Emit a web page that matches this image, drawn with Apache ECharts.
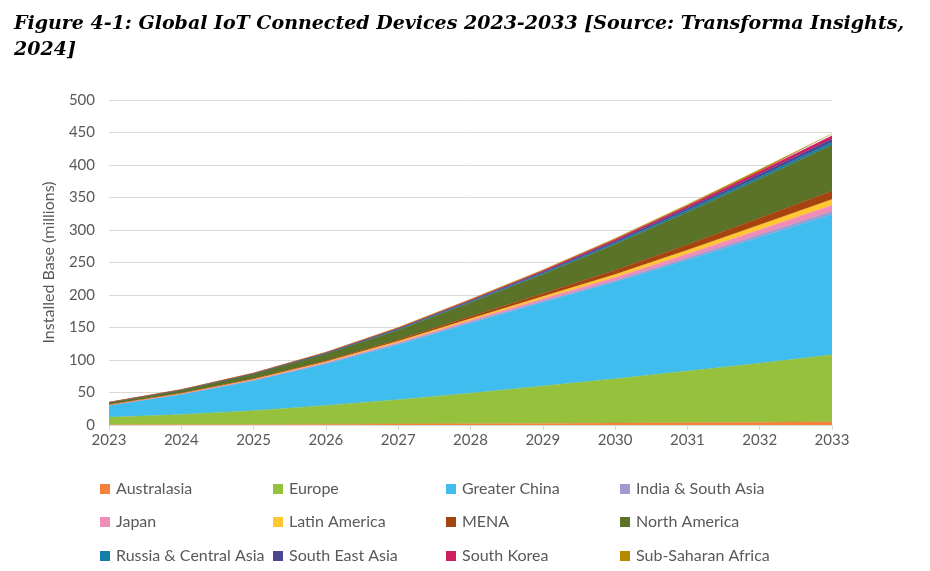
<!DOCTYPE html>
<html>
<head>
<meta charset="utf-8">
<script src="https://cdn.jsdelivr.net/npm/echarts@6/dist/echarts.min.js"></script>
<style>html,body{margin:0;padding:0;background:#fff}#c{width:930px;height:571px}</style>
</head>
<body>
<div id="c"></div>
<script>
var years = ['2023','2024','2025','2026','2027','2028','2029','2030','2031','2032','2033'];
var australasia = [0.4,0.6,0.9,1.2,1.6,2,2.5,3,3.6,4.3,5];
var europe = [11.6,15.4,21.1,28.8,37.4,47,57.5,68,79.4,90.7,103];
var greaterChina = [18,31,46,64,85,108,129,149,171,194,216];
var indiaSouthAsia = [0.2,0.3,0.5,0.7,1,1.4,1.9,2.5,3.3,4.1,5];
var japan = [0.5,0.7,1,1.4,1.9,2.6,3.4,4.5,5.9,7.4,9];
var latinAmerica = [0.3,0.5,0.8,1.2,1.8,2.4,3.3,4.4,5.8,7.3,9];
var mena = [0.4,0.7,1.1,1.7,2.6,3.6,4.9,6.6,8.5,10.7,13];
var northAmerica = [3,4.3,7,10.5,15,21.5,29.5,40,50,60,71];
var russiaCentralAsia = [0.1,0.2,0.3,0.5,0.8,1.1,1.5,2.1,2.7,3.4,4];
var southEastAsia = [0.2,0.3,0.5,0.7,1.1,1.5,1.9,2.6,3.3,4.2,5];
var southKorea = [0.2,0.3,0.5,0.8,1.1,1.4,1.9,2.5,3.3,4.2,5];
var subSaharanAfrica = [0.1,0.2,0.3,0.5,0.7,1,1.2,1.8,2.2,2.7,3];
var yTicks = [0,50,100,150,200,250,300,350,400,450,500];

var seriesDefs = [
  ['Australasia', australasia, '#F4823C'],
  ['Europe', europe, '#95C13D'],
  ['Greater China', greaterChina, '#3FBDEE'],
  ['India & South Asia', indiaSouthAsia, '#A09BCE'],
  ['Japan', japan, '#F08CB8'],
  ['Latin America', latinAmerica, '#FFC833'],
  ['MENA', mena, '#A5440F'],
  ['North America', northAmerica, '#5A7328'],
  ['Russia & Central Asia', russiaCentralAsia, '#127FA6'],
  ['South East Asia', southEastAsia, '#4A468F'],
  ['South Korea', southKorea, '#CC1F64'],
  ['Sub-Saharan Africa', subSaharanAfrica, '#B58A00']
];

var gray = '#595959';
var series = seriesDefs.map(function(d){
  return {
    name: d[0], type: 'line', stack: 'total', data: d[1],
    symbol: 'none', showSymbol: false, smooth: false,
    lineStyle: {width: 0.5, color: d[2]},
    itemStyle: {color: d[2]},
    areaStyle: {color: d[2], opacity: 1}
  };
});

var cols = [100, 273, 446, 620];
var rows = [481, 514, 548];
var legends = seriesDefs.map(function(d, i){
  return {
    left: cols[i % 4], top: rows[Math.floor(i / 4)],
    data: [d[0]], icon: 'rect', itemWidth: 10, itemHeight: 10,
    selectedMode: false, padding: 0,
    textStyle: {fontFamily: 'Lato', fontSize: 16, color: gray, padding: [0,0,0,1]}
  };
});

var chart = echarts.init(document.getElementById('c'), null, {renderer: 'canvas'});
chart.setOption({
  animation: false,
  title: {
    text: 'Figure 4-1: Global IoT Connected Devices 2023-2033 [Source: Transforma Insights,\n2024]',
    left: 9, top: 6,
    textStyle: {fontFamily: 'DejaVu Serif', fontStyle: 'italic', fontWeight: 'bold', fontSize: 19, color: '#000', lineHeight: 26}
  },
  legend: legends,
  grid: {left: 109, right: 98, top: 100, bottom: 146, containLabel: false},
  xAxis: {
    type: 'category', data: years, boundaryGap: false,
    axisLine: {lineStyle: {color: '#D9D9D9', width: 1}},
    axisTick: {show: true, alignWithLabel: true, length: 5, lineStyle: {color: '#D9D9D9'}},
    axisLabel: {color: gray, fontFamily: 'Lato', fontSize: 15, margin: 8},
    splitLine: {show: false}
  },
  yAxis: {
    type: 'value', min: yTicks[0], max: yTicks[yTicks.length-1], interval: 50,
    name: 'Installed Base (millions)', nameLocation: 'middle', nameGap: 52,
    nameTextStyle: {color: gray, fontFamily: 'Lato', fontSize: 16},
    axisLine: {show: false}, axisTick: {show: false},
    axisLabel: {color: gray, fontFamily: 'Lato', fontSize: 15, margin: 14},
    splitLine: {lineStyle: {color: '#D9D9D9', width: 1}}
  },
  series: series
});
</script>
</body>
</html>
